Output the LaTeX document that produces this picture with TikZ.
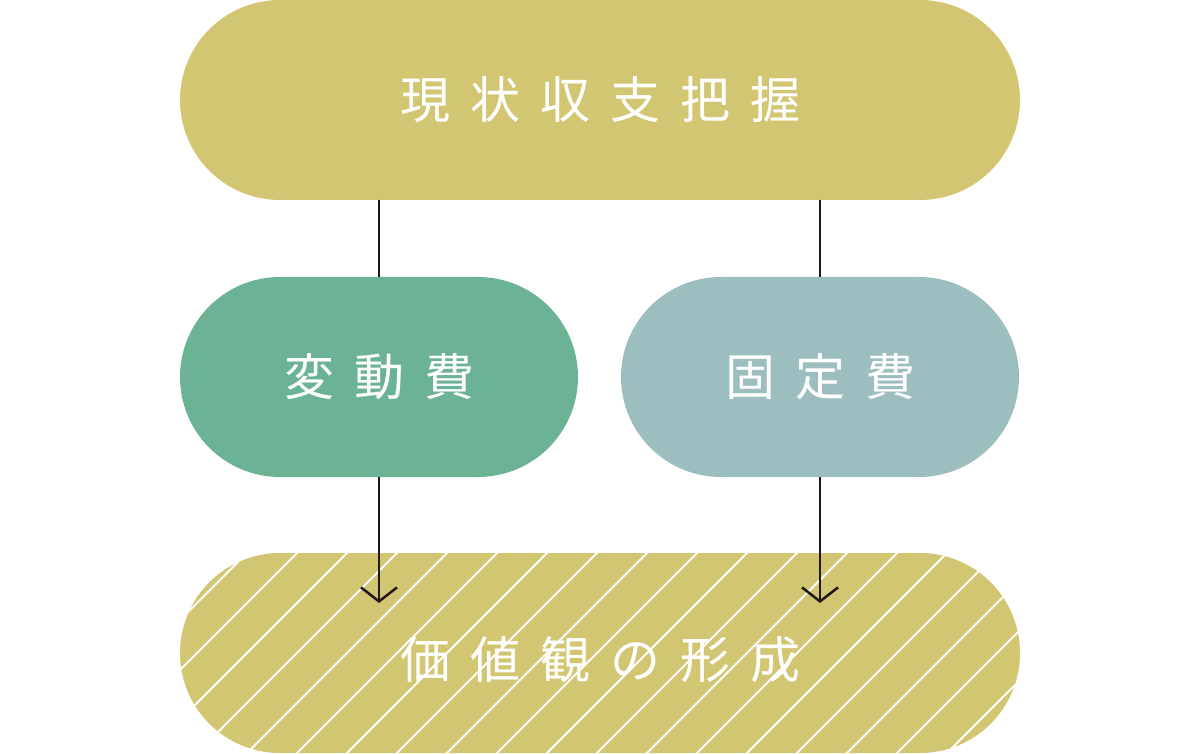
\documentclass[tikz,border=0pt]{standalone}
\usepackage{fontspec}
\newfontfamily\cjk[LetterSpace=40]{Noto Sans CJK JP}
\definecolor{olive}{HTML}{D3C673}
\definecolor{grn}{HTML}{6BB394}
\definecolor{blu}{HTML}{9CBEBF}
\definecolor{ink}{HTML}{231815}
\usetikzlibrary{arrows.meta}
\begin{document}
\begin{tikzpicture}[x=1pt,y=-1pt,
  pill/.style={rounded corners=100pt,minimum height=200pt,inner sep=0pt,text=white,font=\cjk\fontsize{50}{50}\selectfont},
  conn/.style={draw=ink,line width=2.5pt},
  arr/.style={conn,-{Straight Barb[length=14pt,width=36pt,line width=2.5pt]}}]
\useasboundingbox (0,0) rectangle (1200,754);
\node[pill,fill=olive,minimum width=840pt] (top) at (600,100) {現状収支把握};
\node[pill,fill=grn,minimum width=398pt] (var) at (379,377) {変動費};
\node[pill,fill=blu,minimum width=398pt] (fix) at (820,377) {固定費};
\node[pill,fill=olive,minimum width=840pt] (bot) at (600,653) {};
\begin{scope}
\clip[rounded corners=100pt] (180,553) rectangle (1020,753);
\foreach \c in {0,50,...,1100}{\draw[white,line width=2pt] (\c,800) -- (\c+300,500);}
\end{scope}
\node[pill,minimum width=840pt] (botlabel) at (600,660) {価値観の形成};
\coordinate (t1) at (379,200); \coordinate (t2) at (820,200);
\draw[conn] (t1) -- (var.north);
\draw[conn] (t2) -- (fix.north);
\coordinate (e1) at (379,603); \coordinate (e2) at (820,603);
\draw[arr] (var.south) -- (e1);
\draw[arr] (fix.south) -- (e2);
\end{tikzpicture}
\end{document}
